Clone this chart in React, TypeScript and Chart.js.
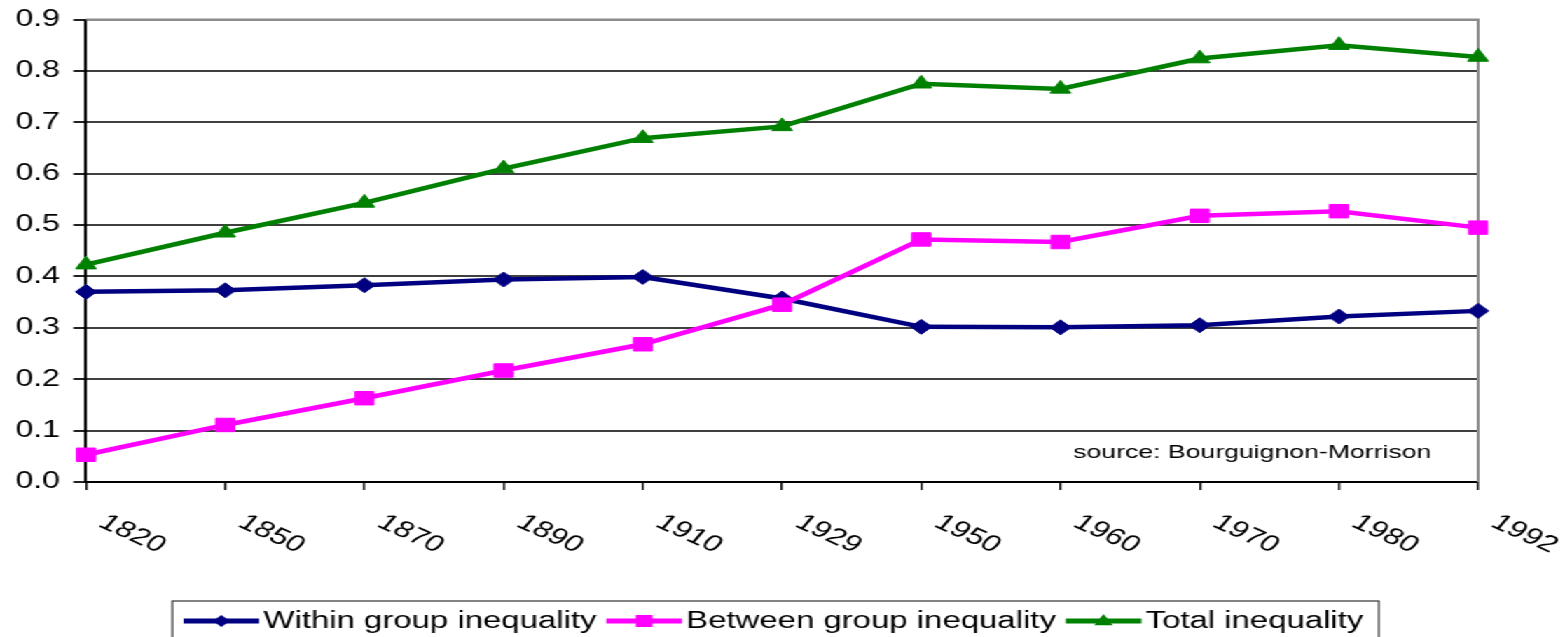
import React, { useEffect, useRef } from "react";
import { Chart, registerables } from "chart.js";

Chart.register(...registerables);

const years = ["1820", "1850", "1870", "1890", "1910", "1929", "1950", "1960", "1970", "1980", "1992"];
const withinGroup = [0.370, 0.373, 0.383, 0.394, 0.399, 0.357, 0.302, 0.301, 0.305, 0.322, 0.333];
const betweenGroup = [0.053, 0.111, 0.163, 0.217, 0.268, 0.345, 0.472, 0.467, 0.518, 0.527, 0.495];
const totalInequality = [0.423, 0.485, 0.543, 0.610, 0.669, 0.692, 0.775, 0.765, 0.824, 0.850, 0.827];
const seriesNames = ["Within group inequality", "Between group inequality", "Total inequality"];
const seriesColors = ["#000080", "#FF00FF", "#008000"];
const sourceNote = "source: Bourguignon-Morrison";

const FONT = "Arial, 'Liberation Sans', sans-serif";
const CW = 1117;
const CH = 637;
const SX = 1565 / CW;

function drawMarker(ctx: CanvasRenderingContext2D, style: string, x: number, y: number, r: number, color: string) {
  ctx.save();
  ctx.fillStyle = color;
  ctx.beginPath();
  if (style === "rectRot") {
    ctx.moveTo(x, y - r);
    ctx.lineTo(x + r, y);
    ctx.lineTo(x, y + r);
    ctx.lineTo(x - r, y);
  } else if (style === "rect") {
    ctx.rect(x - r, y - r, 2 * r, 2 * r);
  } else {
    ctx.moveTo(x, y - r);
    ctx.lineTo(x + r * 0.95, y + r * 0.6);
    ctx.lineTo(x - r * 0.95, y + r * 0.6);
  }
  ctx.closePath();
  ctx.fill();
  ctx.restore();
}

const customDraw = {
  id: "customDraw",
  beforeDatasetsDraw(chart: any) {
    const { ctx, chartArea: a } = chart;
    ctx.save();
    ctx.strokeStyle = "#8c8c8c";
    ctx.lineWidth = 2;
    ctx.beginPath();
    ctx.moveTo(a.left, a.top);
    ctx.lineTo(a.right, a.top);
    ctx.lineTo(a.right, a.bottom);
    ctx.stroke();
    ctx.restore();
  },
  afterDraw(chart: any) {
    const { ctx, chartArea: a } = chart;
    const xs = chart.scales.x;
    ctx.save();
    ctx.fillStyle = "#000";
    ctx.font = `23px ${FONT}`;
    ctx.textAlign = "center";
    ctx.textBaseline = "middle";
    (chart.data.labels as string[]).forEach((lab: string, i: number) => {
      const x = xs.getPixelForTick(i);
      ctx.save();
      ctx.translate(x + 33, a.bottom + 52);
      ctx.rotate((32 * Math.PI) / 180);
      ctx.fillText(lab, 0, 0);
      ctx.restore();
    });

    // source note
    ctx.font = `19px ${FONT}`;
    ctx.textAlign = "left";
    ctx.textBaseline = "middle";
    ctx.fillText(sourceNote, a.right - 289, a.bottom - 29);

    // legend
    ctx.font = `23.5px ${FONT}`;
    const ly = 621;
    let x = 131;
    const styles = ["rectRot", "rect", "triangle"];
    const mr = [6, 6, 7];
    chart.data.datasets.forEach((ds: any, i: number) => {
      ctx.strokeStyle = ds.borderColor;
      ctx.lineWidth = 5;
      ctx.beginPath();
      ctx.moveTo(x, ly);
      ctx.lineTo(x + 54, ly);
      ctx.stroke();
      drawMarker(ctx, styles[i], x + 27, ly, mr[i], ds.borderColor);
      ctx.fillStyle = "#000";
      ctx.fillText(ds.label, x + 57, ly + 1);
      x = x + 57 + ctx.measureText(ds.label).width + 7;
    });
    ctx.strokeStyle = "#333";
    ctx.lineWidth = 1.2;
    ctx.strokeRect(123, 601, x - 7 + 11 - 123, 60);
    ctx.restore();
  },
};

export default function App() {
  const ref = useRef<HTMLCanvasElement | null>(null);
  useEffect(() => {
    if (!ref.current) return;
    const chart = new Chart(ref.current, {
      type: "line",
      data: {
        labels: years,
        datasets: [
          {
            label: seriesNames[0],
            data: withinGroup,
            borderColor: seriesColors[0],
            backgroundColor: seriesColors[0],
            borderWidth: 4.5,
            pointStyle: "rectRot",
            pointRadius: 7.5,
            pointBorderWidth: 1,
            tension: 0,
            order: 1,
          },
          {
            label: seriesNames[1],
            data: betweenGroup,
            borderColor: seriesColors[1],
            backgroundColor: seriesColors[1],
            borderWidth: 4.5,
            pointStyle: "rect",
            pointRadius: 9.5,
            pointBorderWidth: 1,
            tension: 0,
            order: 0,
          },
          {
            label: seriesNames[2],
            data: totalInequality,
            borderColor: seriesColors[2],
            backgroundColor: seriesColors[2],
            borderWidth: 4.5,
            pointStyle: "triangle",
            pointRadius: 8.5,
            pointBorderWidth: 1,
            tension: 0,
            order: 2,
          },
        ],
      },
      options: {
        responsive: false,
        animation: false,
        events: [],
        layout: { padding: { top: 19.5, right: 62, left: 0, bottom: 0 } },
        plugins: {
          legend: { display: false },
          tooltip: { enabled: false },
          title: { display: false },
        },
        scales: {
          x: {
            type: "category",
            offset: false,
            grid: {
              display: true,
              drawOnChartArea: false,
              drawTicks: true,
              tickLength: 8,
              color: "#111",
              lineWidth: 1.5,
            },
            border: { display: true, color: "#000", width: 2 },
            ticks: {
              color: "rgba(0,0,0,0)",
              font: { family: FONT, size: 23 },
              maxRotation: 0,
              minRotation: 0,
              autoSkip: false,
            },
            afterFit: (s: any) => {
              s.height = 155;
              s.paddingLeft = 0;
              s.paddingRight = 0;
            },
          },
          y: {
            min: 0,
            max: 0.9,
            grid: {
              color: (c: any) => (c.tick && Math.abs(c.tick.value - 0.9) < 1e-6 ? "#8c8c8c" : "#404040"),
              lineWidth: 2,
              tickLength: 9,
              tickColor: "#222",
              drawTicks: true,
            },
            border: { display: true, color: "#000", width: 2 },
            ticks: {
              stepSize: 0.1,
              padding: 9.5,
              color: "#000",
              font: { family: FONT, size: 23 },
              callback: (v: any) => Number(v).toFixed(1),
            },
            afterFit: (s: any) => {
              s.width = 61.4;
              s.paddingTop = 0;
              s.paddingBottom = 0;
            },
          },
        },
      },
      plugins: [customDraw],
    });
    return () => chart.destroy();
  }, []);
  return (
    <div
      style={{
        position: "fixed",
        left: 0,
        top: 0,
        width: CW,
        height: CH,
        transform: `scaleX(${SX})`,
        transformOrigin: "0 0",
        background: "#fff",
      }}
    >
      <canvas ref={ref} width={CW} height={CH} style={{ display: "block", width: CW, height: CH }} />
    </div>
  );
}
